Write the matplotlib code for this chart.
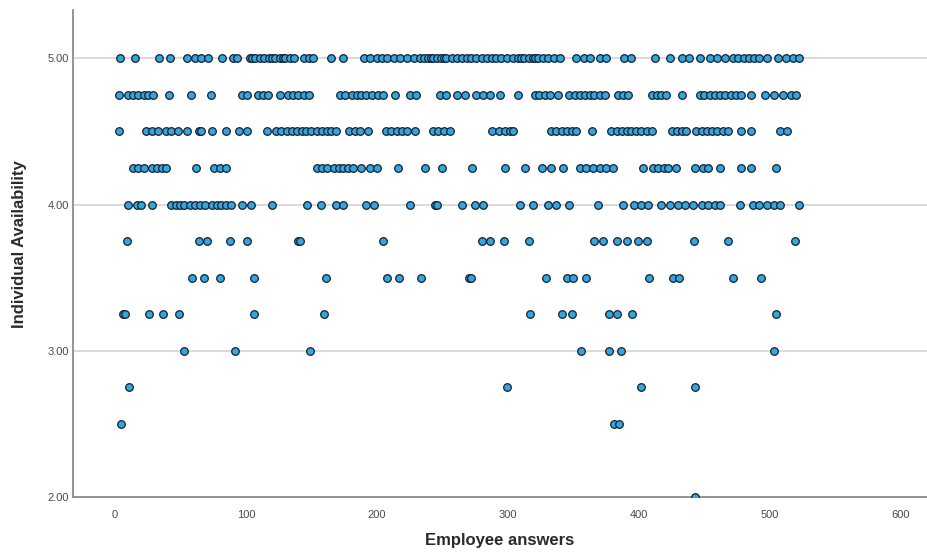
import numpy as np
import matplotlib
matplotlib.use("Agg")
import matplotlib.pyplot as plt

plt.rcParams['font.family'] = ['Liberation Sans', 'DejaVu Sans']

# Employee answer index for each availability level
x_500 = [4, 15, 34, 42, 55, 61, 66, 71, 82, 90, 93, 103, 105, 107, 111, 114, 118, 120,
         122, 126, 128, 130, 134, 137, 144, 148, 151, 165, 174, 190, 195, 200, 204, 208,
         213, 218, 223, 228, 233, 236, 239, 241, 243, 246, 249, 251, 253, 257, 261, 265,
         269, 272, 276, 280, 284, 288, 291, 295, 299, 304, 308, 310, 312, 316, 319, 321,
         323, 327, 331, 335, 340, 352, 358, 363, 370, 375, 389, 394, 412, 424, 433, 438,
         447, 454, 460, 466, 472, 476, 480, 484, 488, 492, 498, 506, 512, 518, 522]
x_475 = [3, 10, 14, 18, 22, 25, 29, 41, 58, 73, 97, 101, 109, 113, 117, 126, 132, 136,
         140, 144, 148, 172, 176, 181, 185, 188, 192, 196, 201, 205, 214, 225, 230, 248,
         253, 261, 267, 276, 281, 286, 294, 308, 321, 324, 328, 332, 338, 347, 351, 355,
         359, 363, 366, 370, 374, 384, 388, 392, 410, 414, 417, 421, 433, 447, 450, 454,
         458, 462, 466, 470, 474, 478, 486, 496, 503, 510, 516, 520]
x_450 = [3, 24, 28, 33, 39, 43, 48, 55, 64, 66, 74, 85, 95, 101, 116, 123, 127, 131, 135,
         139, 143, 146, 150, 154, 158, 162, 165, 169, 179, 183, 187, 193, 207, 211, 215,
         219, 223, 229, 243, 247, 251, 256, 288, 293, 298, 302, 304, 333, 337, 341, 345,
         349, 352, 364, 379, 383, 387, 391, 394, 398, 402, 406, 410, 425, 429, 433, 436,
         444, 448, 452, 456, 460, 464, 468, 478, 486, 508, 513]
x_425 = [14, 18, 22, 28, 32, 36, 39, 62, 76, 80, 85, 154, 158, 162, 167, 171, 174, 178,
         182, 188, 195, 200, 216, 237, 250, 273, 298, 313, 326, 333, 342, 355, 360, 365,
         370, 375, 380, 403, 411, 415, 419, 422, 428, 443, 449, 453, 462, 478, 486, 505]
x_400 = [10, 17, 20, 28, 43, 47, 50, 53, 57, 61, 65, 69, 74, 78, 81, 85, 89, 97, 104,
         120, 147, 157, 169, 174, 192, 198, 225, 244, 246, 265, 275, 281, 309, 319, 331,
         337, 347, 369, 388, 396, 402, 407, 417, 424, 430, 435, 441, 448, 453, 458, 462,
         477, 487, 492, 498, 503, 508, 522]
x_375 = [9, 64, 70, 88, 101, 140, 141, 205, 280, 286, 297, 316, 366, 373, 383, 391, 399,
         406, 442, 468, 519]
x_350 = [59, 68, 80, 106, 161, 208, 217, 234, 270, 272, 329, 345, 350, 360, 408, 426,
         431, 472, 493]
x_325 = [6, 8, 26, 37, 49, 106, 160, 317, 341, 349, 377, 383, 395, 505]
x_300 = [53, 92, 149, 356, 377, 386, 503]
x_275 = [11, 299, 402, 443]
x_250 = [5, 381, 385]
x_200 = [443]

levels = [5.0, 4.75, 4.5, 4.25, 4.0, 3.75, 3.5, 3.25, 3.0, 2.75, 2.5, 2.0]
groups = [x_500, x_475, x_450, x_425, x_400, x_375, x_350, x_325, x_300, x_275, x_250, x_200]

xs = np.concatenate([np.array(g, dtype=float) for g in groups])
ys = np.concatenate([np.full(len(g), lv) for g, lv in zip(groups, levels)])

fig = plt.figure(figsize=(9.27, 5.54), dpi=100)
ax = fig.add_axes([73 / 927, 57 / 554, 854 / 927, 487 / 554])

# horizontal reference lines
for yv in [3.0, 4.0, 5.0]:
    ax.axhline(yv, color='#d4d4d4', lw=1.2, zorder=1)

ax.scatter(xs, ys, s=30, c='#33a6e2', edgecolors='#15202c', linewidths=0.9, zorder=3)

ax.set_xlim(-32, 620)
ax.set_ylim(2.0, 5.33)
ax.set_xticks([0, 100, 200, 300, 400, 500, 600])
ax.set_yticks([2.0, 3.0, 4.0, 5.0])
ax.set_yticklabels(['2.00', '3.00', '4.00', '5.00'])
ax.tick_params(length=0, labelsize=8, colors='#4a4a4a')
ax.tick_params(axis='x', pad=9)
ax.tick_params(axis='y', pad=3)

for side in ['top', 'right']:
    ax.spines[side].set_visible(False)
for side in ['left', 'bottom']:
    ax.spines[side].set_color('#8a8a8a')
    ax.spines[side].set_linewidth(1.3)

ax.set_xlabel('Employee answers', fontsize=12, fontweight='bold', color='#2a2a2a', va='center')
ax.set_ylabel('Individual Availability', fontsize=12, fontweight='bold', color='#2a2a2a', va='center')
ax.xaxis.set_label_coords(0.5, -(541 - 497) / 487)
ax.yaxis.set_label_coords(-(73 - 20) / 854, 0.52)

fig.savefig('out.png', dpi=100)
